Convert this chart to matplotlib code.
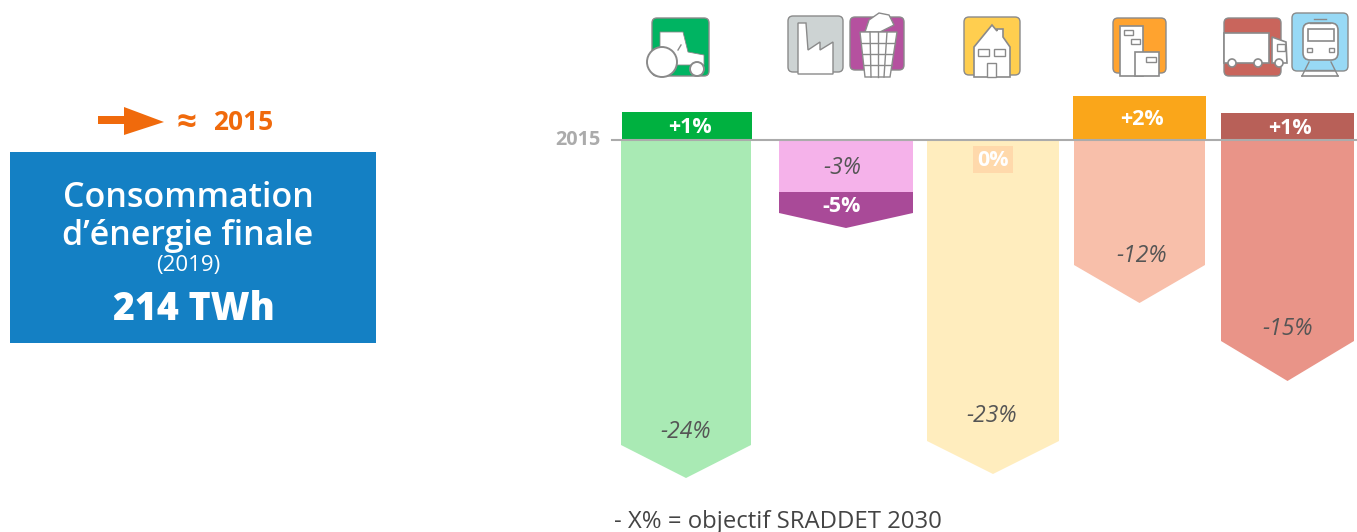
import matplotlib
matplotlib.use("Agg")
import matplotlib.pyplot as plt
from matplotlib.patches import Circle, FancyBboxPatch, Polygon, Rectangle

plt.rcParams["font.family"] = ["Open Sans", "DejaVu Sans"]

# ------------------------------------------------------------
# Data (heights, 1 unit = 1 pixel)
# ------------------------------------------------------------

sectors = ["Agriculture", "Industrie / déchets", "Résidentiel", "Tertiaire", "Transports"]

rise_labels = ["+1%", "", "", "+2%", "+1%"]
rise_height = [27, 0, 0, 43, 26]

target_labels = ["-24%", "-3%", "-23%", "-12%", "-15%"]
target_depth = [338, 52, 334, 163, 241]

# industry has a second block below the pink one
extra_label = "-5%"
extra_depth = 36

# ------------------------------------------------------------
# Layout and colours
# ------------------------------------------------------------

W, H = 1357, 532
BASE_Y = 140

bar_left = [621, 779, 927, 1074, 1221]
bar_right = [751, 913, 1059, 1205, 1354]
tip_height = [33, 0, 33, 38, 40]
label_x = [686, 842, 992, 1142, 1288]
label_y = [291, 27, 275, 115, 188]

rise_left = [622, 0, 0, 1073, 1221]
rise_right = [752, 0, 0, 1206, 1354]
rise_label_x = [690, 0, 0, 1142, 1290]

rise_colors = ["#00B140", None, None, "#FAA61A", "#B86058"]
target_colors = ["#A9EAB4", "#F5B2EA", "#FFEDBE", "#F8BFAA", "#E99488"]

ORANGE = "#F06A0C"
BLUE = "#1480C4"

fig = plt.figure(figsize=(W / 100, H / 100), dpi=100)

# bars: y = 0 is the 2015 line
ax = fig.add_axes([0, 0, 1, 1])
ax.set_xlim(0, W)
ax.set_ylim(BASE_Y - H, BASE_Y)
ax.axis("off")

# decoration layer in pixels, y going down
deco = fig.add_axes([0, 0, 1, 1])
deco.set_xlim(0, W)
deco.set_ylim(H, 0)
deco.axis("off")
deco.patch.set_alpha(0)


def pentagon(left, right, top, bottom, tip, color):
    mid = (left + right) / 2
    ax.fill(
        [left, right, right, mid, left],
        [top, top, bottom + tip, bottom, bottom + tip],
        color=color,
        linewidth=0,
        zorder=2,
    )


for i, sector in enumerate(sectors):
    left, right = bar_left[i], bar_right[i]
    depth = target_depth[i]

    pentagon(left, right, 0, -depth, tip_height[i], target_colors[i])

    ax.text(
        label_x[i],
        -label_y[i] - 1,
        target_labels[i],
        ha="center",
        va="center",
        fontsize=16.5,
        style="italic",
        color="#555555",
        zorder=4,
    )

    if rise_height[i] > 0:
        ax.bar(
            (rise_left[i] + rise_right[i]) / 2,
            rise_height[i],
            width=rise_right[i] - rise_left[i],
            bottom=1,
            color=rise_colors[i],
            linewidth=0,
            zorder=2,
        )
        ax.text(
            rise_label_x[i],
            rise_height[i] / 2 - 1,
            rise_labels[i],
            ha="center",
            va="center",
            fontsize=15.5,
            fontweight="bold",
            color="white",
            zorder=4,
        )

# dark block under the pink one
pentagon(779, 913, -52, -52 - extra_depth, 15, "#A94A98")
ax.text(
    842, -67, extra_label, ha="center", va="center",
    fontsize=15.5, fontweight="bold", color="white", zorder=4,
)

# the 0% tag on the residential bar
ax.add_patch(Rectangle((973, -33), 40, 27, color="#FFD9AB", linewidth=0, zorder=3))
ax.text(
    993, -20, "0%", ha="center", va="center",
    fontsize=15.5, fontweight="bold", color="white", zorder=4,
)

ax.plot([612, W], [0, 0], color="#ABABAB", linewidth=1.5, zorder=3)
ax.text(
    578, 0, "2015", ha="center", va="center",
    fontsize=14.3, fontweight="bold", color="#ABABAB",
)

# ------------------------------------------------------------
# Left panel
# ------------------------------------------------------------

deco.add_patch(Polygon(
    [(98, 116), (124, 116), (124, 107), (164, 122), (124, 135), (124, 124), (98, 124)],
    closed=True, color=ORANGE, linewidth=0,
))
deco.text(177, 124, "≈", ha="left", va="center", fontsize=25, fontweight="bold", color=ORANGE)
deco.text(213, 122, "2015", ha="left", va="center", fontsize=19, fontweight="bold", color=ORANGE)

deco.add_patch(Rectangle((10, 152), 366, 191, color=BLUE, linewidth=0))
deco.text(188, 198, "Consommation", ha="center", va="center", fontsize=24.5, fontweight=600, color="white")
deco.text(188, 236, "d’énergie finale", ha="center", va="center", fontsize=24.5, fontweight=600, color="white")
deco.text(188, 265, "(2019)", ha="center", va="center", fontsize=16, fontweight=500, color="white")
deco.text(194, 309, "214 TWh", ha="center", va="center", fontsize=27, fontweight="heavy", color="white")

deco.text(614, 522, "- X% = objectif SRADDET 2030", ha="left", va="center", fontsize=17.2, color="#444444")

# ------------------------------------------------------------
# Icons
# ------------------------------------------------------------

EDGE = "#8A8A8A"


def tile(x0, y0, x1, y1, color):
    deco.add_patch(FancyBboxPatch(
        (x0 + 4, y0 + 4), x1 - x0 - 8, y1 - y0 - 8,
        boxstyle="round,pad=4,rounding_size=5",
        facecolor=color, edgecolor=EDGE, linewidth=1.0,
    ))


def shape(points, color="white", lw=1.0):
    deco.add_patch(Polygon(points, closed=True, facecolor=color, edgecolor=EDGE, linewidth=lw))


def box(x0, y0, x1, y1, color="white", lw=1.0):
    deco.add_patch(Rectangle((x0, y0), x1 - x0, y1 - y0, facecolor=color, edgecolor=EDGE, linewidth=lw))


def wheel(x, y, r, lw=1.0):
    deco.add_patch(Circle((x, y), r, facecolor="white", edgecolor=EDGE, linewidth=lw))


# tractor
tile(652, 18, 709, 76, "#00B462")
shape([(660, 32), (683, 32), (688, 52), (704, 55), (704, 65), (660, 65)], lw=0.6)
deco.plot([678, 681], [50, 45], color=EDGE, linewidth=1)
wheel(662, 62, 15, 1.4)
wheel(697, 69, 7, 1.4)

# factory
tile(788, 16, 843, 72, "#CDD3D3")
shape([(798, 74), (798, 23), (806, 23), (808, 50), (820, 42), (820, 50), (833, 42), (833, 74)])

# bin
tile(850, 17, 904, 70, "#B5519F")
shape([(865, 32), (869, 20), (879, 13), (889, 15), (894, 25), (880, 32)])
shape([(860, 32), (897, 32), (890, 77), (865, 77)])
for y, a, b in [(43, 862, 895), (54, 863, 893), (65, 864, 892)]:
    deco.plot([a, b], [y, y], color=EDGE, linewidth=1)
for top, bottom in [(870, 871), (878, 878), (887, 884)]:
    deco.plot([top, bottom], [32, 77], color=EDGE, linewidth=1)

# house
tile(964, 17, 1020, 75, "#FFCE4F")
shape([(974, 77), (974, 47), (992, 25), (997, 31), (997, 29), (1003, 29), (1003, 37), (1010, 47), (1010, 77)], lw=1.2)
box(978, 49, 989, 56)
box(994, 49, 1005, 56)
box(987, 63, 996, 77)

# offices
tile(1113, 18, 1166, 73, "#FFA32F")
box(1120, 26, 1143, 76, lw=1.2)
box(1135, 52, 1159, 76, lw=1.2)
box(1124, 30, 1133, 35)
box(1131, 39, 1140, 44)
box(1146, 57, 1156, 62)

# truck
tile(1224, 18, 1281, 76, "#C9655C")
box(1224, 33, 1269, 63, lw=1.2)
shape([(1272, 37), (1286, 42), (1287, 63), (1272, 63)], lw=1.2)
box(1277, 44, 1285, 51)
wheel(1232, 63, 4, 1.2)
wheel(1258, 63, 4, 1.2)
wheel(1279, 63, 4, 1.2)

# train
tile(1292, 13, 1348, 71, "#98D9F5")
deco.plot([1302, 1338], [76, 76], color=EDGE, linewidth=1.2)
deco.plot([1309, 1302], [62, 76], color=EDGE, linewidth=1)
deco.plot([1331, 1338], [62, 76], color=EDGE, linewidth=1)
deco.plot([1306, 1334], [70, 70], color=EDGE, linewidth=1)
deco.add_patch(FancyBboxPatch(
    (1307, 27), 27, 29, boxstyle="round,pad=4,rounding_size=7",
    facecolor="white", edgecolor=EDGE, linewidth=1.2,
))
box(1308, 29, 1334, 41, lw=1.2)
box(1307, 48, 1312, 52)
box(1329, 48, 1334, 52)
deco.plot([1314, 1326], [19, 19], color=EDGE, linewidth=1)
deco.plot([1310, 1330], [23, 23], color=EDGE, linewidth=1)

fig.savefig("out.png", dpi=100)
